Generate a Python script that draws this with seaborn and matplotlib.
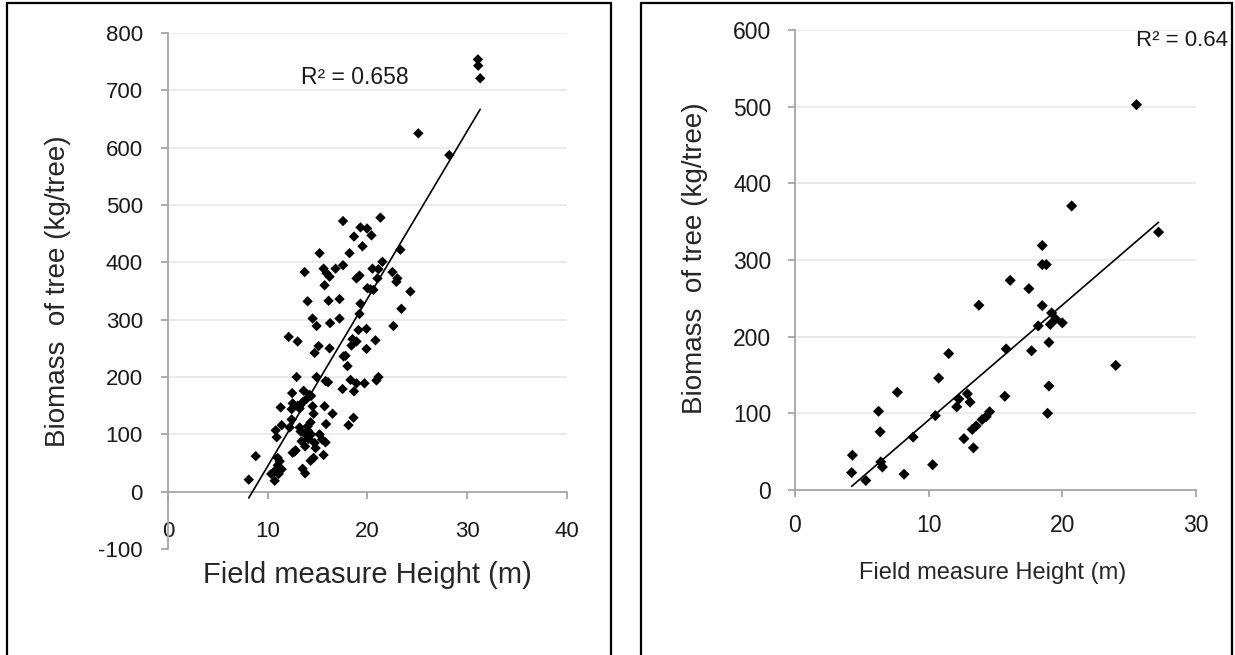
import matplotlib
matplotlib.use("Agg")
import matplotlib.pyplot as plt
import seaborn as sns
import numpy as np
from matplotlib.patches import Rectangle

# left panel: field height (m) vs biomass (kg/tree)
left_height = [31.07, 31.1, 31.3, 25.1, 28.2, 17.55, 21.3, 19.3, 19.96, 20.4,
               18.65, 19.5, 23.3, 15.2, 18.2, 21.5, 17.55, 16.8, 15.6, 13.7,
               15.9, 16.2, 21.1, 20.5, 22.5, 18.9, 19.2, 23.0, 22.9, 21.0,
               15.7, 20.3, 20.0, 20.6, 24.3, 14.0, 16.1, 17.2, 19.3, 23.4,
               19.2, 14.5, 17.2, 16.25, 14.9, 22.6, 19.1, 19.9, 12.1, 13.0,
               18.5, 18.9, 20.8, 18.4, 15.1, 16.2, 19.9, 14.7, 17.8, 17.6,
               18.0, 12.9, 14.9, 21.1, 20.9, 15.8, 16.05, 18.3, 18.9, 19.7,
               17.5, 18.65, 12.45, 13.6, 14.2, 14.35, 13.9, 13.5, 12.5, 13.0,
               13.2, 14.5, 15.7, 11.3, 12.4, 14.6, 16.5, 18.6, 18.1, 12.4,
               11.4, 12.2, 13.2, 14.3, 14.0, 15.85, 10.8, 10.9, 14.0, 13.9,
               14.35, 15.2, 15.45, 15.8, 14.7, 13.4, 13.75, 14.8, 12.8, 12.5,
               14.6, 14.3, 15.6, 8.8, 11.0, 11.2, 11.0, 11.4, 10.7, 11.1,
               13.5, 13.75, 8.1, 10.7, 10.35, 13.3, 14.1, 12.7]
left_biomass = [754, 743, 721, 625, 587, 472, 478, 461, 459, 447,
                445, 428, 422, 416, 416, 401, 395, 389, 389, 383,
                381, 375, 388, 389, 383, 372, 377, 372, 366, 372,
                360, 353, 355, 352, 349, 332, 333, 336, 328, 319,
                310, 302, 302, 294, 289, 289, 282, 284, 270, 262,
                266, 262, 264, 255, 254, 250, 249, 242, 237, 236,
                219, 200, 200, 200, 194, 193, 191, 195, 189, 189,
                179, 175, 172, 176, 169, 167, 162, 156, 154, 150,
                145, 149, 149, 147, 144, 136, 136, 129, 116, 126,
                116, 112, 112, 121, 114, 118, 107, 95, 107, 98,
                100, 100, 91, 86, 85, 88, 79, 76, 72, 68,
                59, 54, 64, 62, 59, 53, 46, 39, 36, 31,
                40, 32, 21, 19, 31, 105, 92, 70]

# right panel
right_height = [25.55, 20.7, 27.2, 18.5, 18.5, 18.8, 16.1, 17.5, 13.76, 18.5,
                19.2, 19.5, 20.0, 18.2, 19.1, 19.0, 15.8, 17.7, 11.5, 24.0,
                10.75, 19.0, 7.66, 12.9, 15.7, 12.26, 13.1, 12.1, 6.25, 18.9,
                10.5, 14.56, 14.3, 14.0, 13.56, 13.26, 6.37, 8.84, 12.64, 13.35,
                4.3, 6.42, 6.54, 10.3, 4.24, 8.16, 5.3]
right_biomass = [502.6, 370.5, 336.4, 318.9, 294, 294, 273.5, 262.6, 241, 240.5,
                 231, 223, 218, 214, 216, 192.5, 184, 181.6, 178, 162.5,
                 146, 135.7, 127.5, 125.4, 122.3, 118.7, 114.6, 108.4, 102.7, 100,
                 97, 102, 95.5, 91.8, 83.6, 79, 75.9, 69, 67, 55,
                 45.4, 36.6, 30, 33, 22.7, 20.6, 12.4]

left_xticks = [0, 10, 20, 30, 40]
left_yticks = [-100, 0, 100, 200, 300, 400, 500, 600, 700, 800]
right_xticks = [0, 10, 20, 30]
right_yticks = [0, 100, 200, 300, 400, 500, 600]

sns.set_theme(style="white")
plt.rcParams['font.family'] = ['Liberation Sans', 'DejaVu Sans']
plt.rcParams['axes.unicode_minus'] = False

AXIS_GREY = '#a6a6a6'
GRID_GREY = '#e9e9e9'

fig = plt.figure(figsize=(12.35, 6.55), dpi=100)
ax1 = fig.add_axes([0.136, 0.1618, 0.3231, 0.7878])
ax2 = fig.add_axes([0.6437, 0.2519, 0.3247, 0.7023])


def style_axis(ax, xticks, yticks, tick_size, xpad, ypad):
    ax.set_xlim(xticks[0], xticks[-1])
    ax.set_ylim(yticks[0], yticks[-1])
    ax.set_xticks(xticks)
    ax.set_yticks(yticks)
    for v in yticks:
        if v > 0:
            ax.axhline(v, color=GRID_GREY, lw=1.3, zorder=0)
    for s in ['top', 'right']:
        ax.spines[s].set_visible(False)
    ax.spines['bottom'].set_position(('data', 0))
    for s in ['left', 'bottom']:
        ax.spines[s].set_color(AXIS_GREY)
        ax.spines[s].set_linewidth(1.3)
    ax.tick_params(axis='x', direction='out', length=5, width=1.3, color=AXIS_GREY,
                   labelsize=tick_size, pad=xpad, labelcolor='#1a1a1a', bottom=True)
    ax.tick_params(axis='y', direction='out', length=5, width=1.3, color=AXIS_GREY,
                   labelsize=tick_size, pad=ypad, labelcolor='#1a1a1a', left=True)
    ax.set_facecolor('white')


# left
sns.scatterplot(x=left_height, y=left_biomass, ax=ax1, marker='D', s=28,
                color='black', edgecolor='none', zorder=3)
sns.regplot(x=np.array(left_height), y=np.array(left_biomass), ax=ax1, scatter=False,
            ci=None, truncate=True, line_kws={'color': 'black', 'lw': 1.2, 'zorder': 4})
style_axis(ax1, left_xticks, left_yticks, 16, 16, 13)
ax1.set_xlabel('Field measure Height (m)', fontsize=21)
ax1.set_ylabel('Biomass  of tree (kg/tree)', fontsize=20)
ax1.xaxis.set_label_coords(0.5, -0.05)
ax1.xaxis.label.set_va('center')
ax1.yaxis.set_label_coords(-0.276, 0.5)
ax1.yaxis.label.set_va('center')
ax1.text(18.7, 723, 'R² = 0.658', fontsize=16.5, ha='center', va='center', color='#1a1a1a')

# right
sns.scatterplot(x=right_height, y=right_biomass, ax=ax2, marker='D', s=32,
                color='black', edgecolor='none', zorder=3)
sns.regplot(x=np.array(right_height), y=np.array(right_biomass), ax=ax2, scatter=False,
            ci=None, truncate=True, line_kws={'color': 'black', 'lw': 1.2, 'zorder': 4})
style_axis(ax2, right_xticks, right_yticks, 16.5, 12, 12)
ax2.set_xlabel('Field measure Height (m)', fontsize=17)
ax2.set_ylabel('Biomass  of tree (kg/tree)', fontsize=20)
ax2.xaxis.set_label_coords(0.494, -0.18)
ax2.xaxis.label.set_va('center')
ax2.yaxis.set_label_coords(-0.25, 0.505)
ax2.yaxis.label.set_va('center')
ax2.text(28.97, 586, 'R² = 0.64', fontsize=16, ha='center', va='center', color='#1a1a1a')

# panel borders
W, H = 1235, 655
for x0, x1 in [(7, 611), (641, 1232)]:
    fig.add_artist(Rectangle((x0 / W, -0.05), (x1 - x0) / W, 1.05 - 3 / H,
                             transform=fig.transFigure, fill=False,
                             edgecolor='black', lw=1.6))

fig.savefig('out.png', dpi=100)
